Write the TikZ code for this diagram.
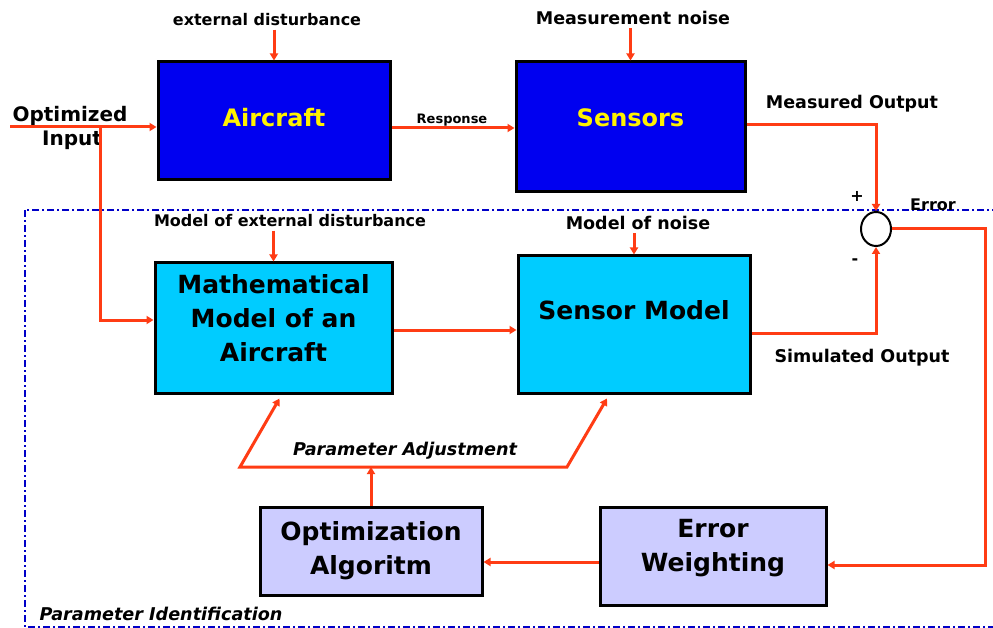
\documentclass[tikz,border=0pt]{standalone}
\usepackage{fontspec}
\setmainfont{DejaVu Sans}
\usetikzlibrary{arrows.meta,shapes.geometric}

\definecolor{sigred}{RGB}{255,60,20}
\definecolor{plantblue}{RGB}{0,0,240}
\definecolor{modelcyan}{RGB}{0,204,255}
\definecolor{algolilac}{RGB}{204,204,255}
\definecolor{idblue}{RGB}{0,0,200}

\tikzset{
	sigtip/.tip={Triangle[length=7pt,width=8pt]},
	sig/.style={draw=sigred, line width=3pt, line join=miter, -sigtip},
	plant/.style={draw=black, line width=3pt, fill=plantblue, text=yellow,
		font=\fontsize{24}{28}\selectfont\bfseries},
	model/.style={draw=black, line width=3pt, fill=modelcyan, align=center,
		font=\fontsize{25}{34}\selectfont\bfseries},
	algo/.style={draw=black, line width=3pt, fill=algolilac, align=center,
		font=\fontsize{25}{34}\selectfont\bfseries},
	lbl/.style={font=\fontsize{17.5}{20}\selectfont\bfseries},
	sml/.style={font=\fontsize{16}{18}\selectfont\bfseries},
	ital/.style={font=\fontsize{17.6}{20}\selectfont\bfseries\itshape},
}

\begin{document}
\begin{tikzpicture}[x=1pt, y=-1pt]
		% Page window
		\useasboundingbox[fill=white] (0,0) rectangle (993,628);
		\clip (0,0) rectangle (993,628);
		
		% Parameter identification frame (dash-dot)
		\draw[idblue, line width=2.5pt, dash pattern=on 7pt off 3pt on 2pt off 3pt]
		(25,210) rectangle (1010,627);
		\node[ital, anchor=west] (pid) at (36,614) {Parameter Identification};
		
		% Real system
		\node[plant, minimum width=232, minimum height=118] (air) at (274,121)
		{\raisebox{7pt}{Aircraft}};
		\node[plant, minimum width=229, minimum height=130] (sen) at (630.5,127)
		{\raisebox{19pt}{Sensors}};
		
		% Models
		\node[model, minimum width=237, minimum height=130] (math) at (273.5,328)
		{Mathematical\\Model of an\\Aircraft\\[-14pt]};
		\node[model, minimum width=232, minimum height=137] (senm) at (634,324.5)
		{\raisebox{28pt}{Sensor Model}};
		
		% Optimisation loop
		\node[algo, minimum width=222, minimum height=88] (opt) at (371,551)
		{Optimization\\Algoritm\\[-28pt]};
		\node[algo, minimum width=226, minimum height=98] (errw) at (713,556)
		{Error\\Weighting\\[-12pt]};
		
		% Summing junction
		\node[ellipse, draw=black, line width=2pt, minimum width=30, minimum height=34,
		inner sep=0pt] (sum) at (876,229) {};
		\node[sml] (plus) at (857,196) {+};
		\node[sml] (minus) at (855,262) {-};
		
		% Labels
		\node[sml] (dist) at (267,20) {external disturbance};
		\node[lbl] (noise) at (633,18) {Measurement noise};
		\node[sml] (mdist) at (290,221) {Model of external disturbance};
		\node[lbl] (mnoise) at (638,223) {Model of noise};
		\node[lbl] (meas) at (852,104) {Measured Output};
		\node[lbl] (simout) at (862,358) {Simulated Output};
		\node[sml] (err) at (933,205) {Error};
		\node[font=\fontsize{13}{15}\selectfont\bfseries] (resp) at (452,120) {Response};
		\node[font=\fontsize{20}{22}\selectfont\bfseries] (optin) at (70,116) {Optimized};
		\node[font=\fontsize{20}{22}\selectfont\bfseries] (inp) at (72,140) {Input};
		\node[ital] (padj) at (405,451) {Parameter Adjustment};
		
		% Disturbance and noise inputs
		\draw[sig] (air.north |- dist.south) -- (air.north);
		\draw[sig] (sen.north |- noise.south) -- (sen.north);
		\draw[sig] (math.north |- mdist.south) -- (math.north);
		\draw[sig] (senm.north |- mnoise.south) -- (senm.north);
		
		% Optimized input to aircraft and model
		\coordinate (inL) at (10,127);
		\coordinate (br) at (100,127);
		\draw[sig] (inL) -- (air.west |- inL);
		\draw[sig] (br) -- (br |- 0,320) -- (math.west |- 0,320);
		
		% Forward paths
		\draw[sig] ([yshift=-7pt]air.east) -- ([yshift=-7pt]air.east -| sen.west);
		\draw[sig] ([yshift=-2pt]math.east) -- ([yshift=-2pt]math.east -| senm.west);
		\draw[sig] ([yshift=2pt]sen.east) -- ([yshift=2pt]sen.east -| sum.north) -- (sum.north);
		\draw[sig] ([yshift=-8.5pt]senm.east) -- ([yshift=-8.5pt]senm.east -| sum.south) -- (sum.south);
		
		% Error feedback
		\coordinate (eTR) at (985,229);
		\coordinate (eBR) at (985,565);
		\draw[sig] (sum.east) -- (eTR) -- (eBR) -- (eBR -| errw.east);
		\draw[sig] ([yshift=-6pt]errw.west) -- ([yshift=-6pt]errw.west -| opt.east);
		
		% Parameter adjustment
		\coordinate (paL) at (240,467);
		\coordinate (paR) at (567,467);
		\draw[sig] (opt.north) -- (opt.north |- paL);
		\draw[sig, sigtip-sigtip] ([xshift=6pt,yshift=-4pt]math.south) -- (paL) -- (paR)
		-- ([xshift=-27pt,yshift=-4pt]senm.south);
	\end{tikzpicture}
\end{document}
